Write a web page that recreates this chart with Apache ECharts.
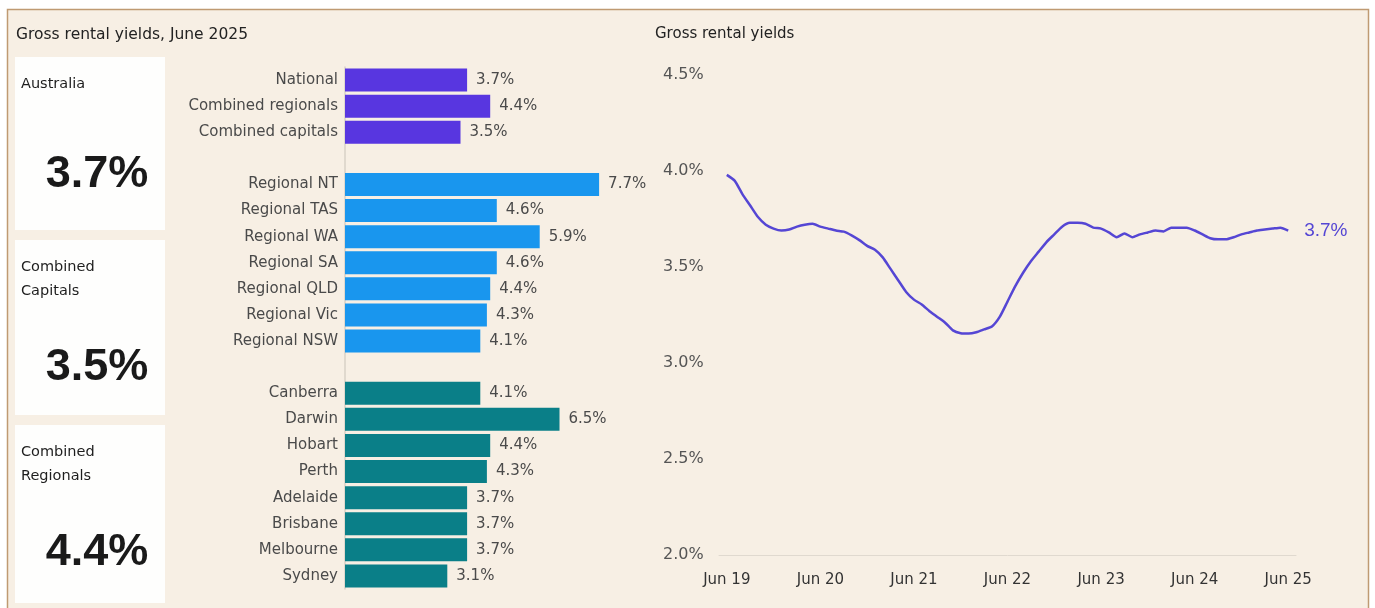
<!DOCTYPE html>
<html>
<head>
<meta charset="utf-8">
<script src="https://cdn.jsdelivr.net/npm/echarts@6/dist/echarts.min.js"></script>
<style>
html,body{margin:0;padding:0;background:#fff;}
#chart{width:1375px;height:608px;}
</style>
</head>
<body>
<div id="chart"></div>
<script>
// ---- data ----
const leftTitle = 'Gross rental yields, June 2025';
const rightTitle = 'Gross rental yields';

const cardTitles = ['Australia', 'Combined\nCapitals', 'Combined\nRegionals'];
const cardValues = ['3.7%', '3.5%', '4.4%'];

const barCategories = ['National', 'Combined regionals', 'Combined capitals', ' ',
  'Regional NT', 'Regional TAS', 'Regional WA', 'Regional SA', 'Regional QLD', 'Regional Vic', 'Regional NSW', '  ',
  'Canberra', 'Darwin', 'Hobart', 'Perth', 'Adelaide', 'Brisbane', 'Melbourne', 'Sydney'];
const barValues = [3.7, 4.4, 3.5, null,
  7.7, 4.6, 5.9, 4.6, 4.4, 4.3, 4.1, null,
  4.1, 6.5, 4.4, 4.3, 3.7, 3.7, 3.7, 3.1];
const barGroups = [0, 0, 0, -1, 1, 1, 1, 1, 1, 1, 1, -1, 2, 2, 2, 2, 2, 2, 2, 2];

const lineTickLabels = ['Jun 19', 'Jun 20', 'Jun 21', 'Jun 22', 'Jun 23', 'Jun 24', 'Jun 25'];
// monthly, Jun 2019 .. Jun 2025
const lineValues = [
  3.98, 3.95, 3.88, 3.82, 3.76, 3.72, 3.70, 3.69, 3.695, 3.71, 3.72, 3.725,
  3.71, 3.70, 3.69, 3.684, 3.665, 3.64, 3.61, 3.59, 3.55, 3.49, 3.43, 3.37,
  3.33, 3.305, 3.27, 3.24, 3.21, 3.17, 3.155, 3.153, 3.16, 3.175, 3.19, 3.24,
  3.32, 3.40, 3.47, 3.53, 3.58, 3.63, 3.67, 3.71, 3.73, 3.73, 3.725, 3.705,
  3.70, 3.68, 3.655, 3.675, 3.655, 3.67, 3.68, 3.69, 3.685, 3.705, 3.705, 3.705,
  3.69, 3.67, 3.65, 3.644, 3.644, 3.655, 3.67, 3.68, 3.69, 3.695, 3.70, 3.705,
  3.69
];

// ---- style ----
const FONT = 'DejaVu Sans';
const groupColors = ['#5836e0', '#1996ee', '#0a7f88'];
const lineColor = '#5546d4';
const textGrey = '#4a4a4a';

const chart = echarts.init(document.getElementById('chart'), null, {renderer: 'canvas'});

const barData = barValues.map((v, i) => v == null ? null : {
  value: v,
  itemStyle: {color: groupColors[barGroups[i]]}
});
const lineData = lineValues.map((v, i) => [i, v]);

const cardTops = [57, 240, 425];
const cardHeights = [173, 175, 178];
const cardNumberY = [175, 368, 553];
const graphics = [
  {type: 'rect', shape: {x: 7.5, y: 9.5, width: 1361, height: 620},
   style: {fill: '#f7efe4', stroke: '#bf9a72', lineWidth: 1.5}, z: -10, silent: true},
  {type: 'text', left: 16, top: 27, style: {text: leftTitle, font: '15.5px "' + FONT + '"', fill: '#222'}},
  {type: 'text', left: 655, top: 27, style: {text: rightTitle, font: '15px "' + FONT + '"', fill: '#222'}}
];
cardTitles.forEach((t, i) => {
  graphics.push({type: 'rect', shape: {x: 15, y: cardTops[i], width: 150, height: cardHeights[i]},
    style: {fill: '#fefefd'}, z: -5, silent: true});
  graphics.push({type: 'text', x: 21, y: cardTops[i] + 15,
    style: {text: t, font: '14.5px "' + FONT + '"', fill: '#1e1e1e', lineHeight: 24}});
  graphics.push({type: 'text', x: 97, y: cardNumberY[i],
    style: {text: cardValues[i], font: 'bold 45px "Liberation Sans"', fill: '#1a1a1a',
      align: 'center', verticalAlign: 'middle'}});
});

const option = {
  backgroundColor: '#ffffff',
  animation: false,
  graphic: graphics,
  grid: [
    {left: 345, top: 67, width: 264, height: 522},
    {left: 719, right: 79, top: 75, bottom: 53}
  ],
  xAxis: [
    {gridIndex: 0, type: 'value', min: 0, max: 8, show: false},
    {gridIndex: 1, type: 'value', min: -1, max: 73,
     axisLine: {show: true, lineStyle: {color: '#e0d9cf', width: 1}},
     axisTick: {show: false},
     splitLine: {show: false},
     axisLabel: {customValues: [0, 12, 24, 36, 48, 60, 72],
       formatter: v => lineTickLabels[Math.round(v / 12)],
       color: '#333', fontSize: 15, fontFamily: FONT, margin: 18}}
  ],
  yAxis: [
    {gridIndex: 0, type: 'category', inverse: true, data: barCategories,
     axisLine: {show: true, lineStyle: {color: '#d9d2c7', width: 1.5}},
     axisTick: {show: false},
     axisLabel: {color: textGrey, fontSize: 15, fontFamily: FONT, margin: 7}},
    {gridIndex: 1, type: 'value', min: 2, max: 4.5, interval: 0.5,
     axisLine: {show: false}, axisTick: {show: false}, splitLine: {show: false},
     axisLabel: {formatter: v => v.toFixed(1) + '%', color: '#555', fontSize: 16,
       fontFamily: FONT, align: 'left', margin: 56}}
  ],
  series: [
    {type: 'bar', xAxisIndex: 0, yAxisIndex: 0, data: barData, barWidth: 23,
     label: {show: true, position: 'right', distance: 9, color: textGrey, fontSize: 15,
       fontFamily: FONT, formatter: p => p.value.toFixed(1) + '%'}},
    {type: 'line', xAxisIndex: 1, yAxisIndex: 1, data: lineData, showSymbol: false,
     smooth: 0.2,
     lineStyle: {color: lineColor, width: 2.5},
     endLabel: {show: true, distance: 16, color: lineColor, fontSize: 19, fontFamily: 'Liberation Sans',
       formatter: p => p.value[1].toFixed(1) + '%'}}
  ]
};
chart.setOption(option);
</script>
</body>
</html>
